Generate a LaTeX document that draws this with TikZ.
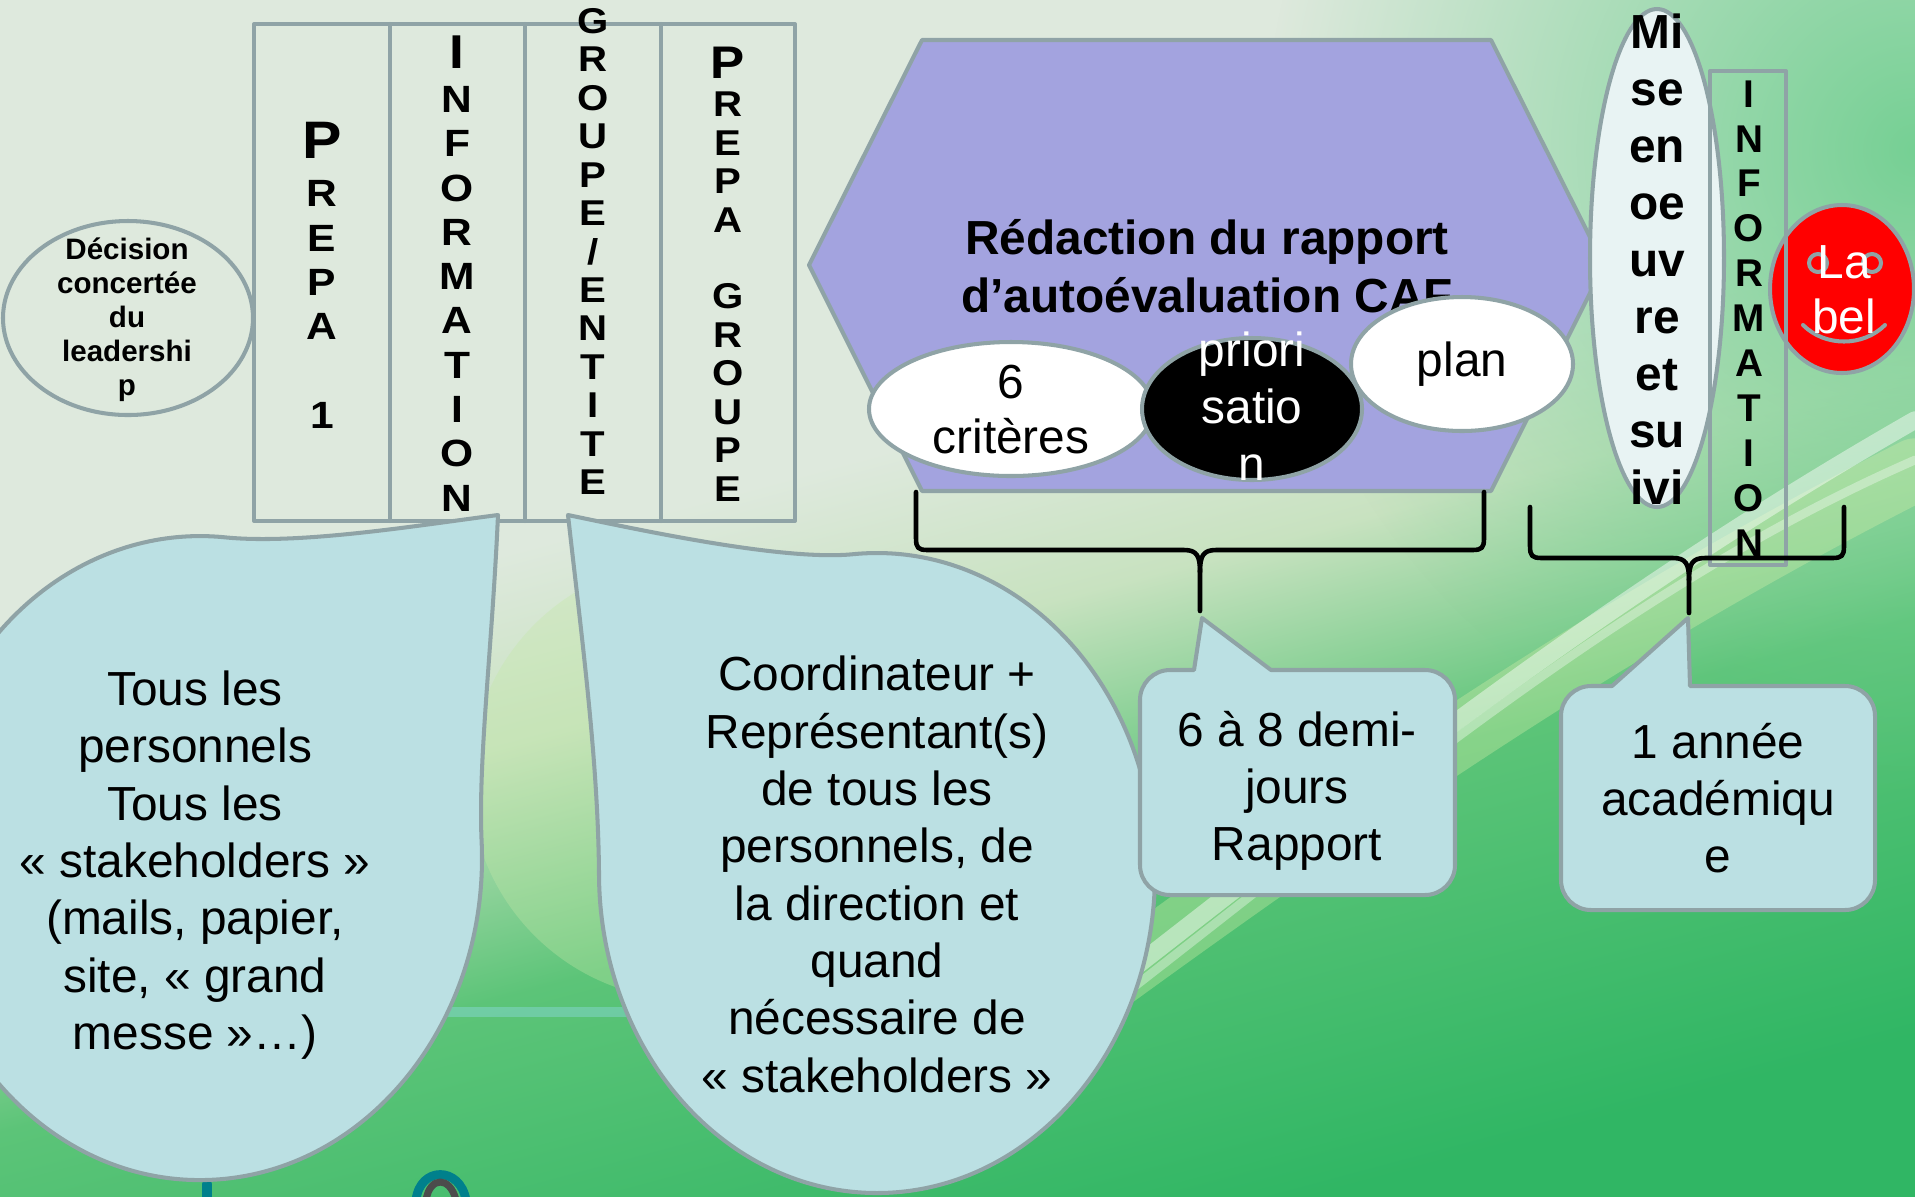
\documentclass[tikz,border=0pt]{standalone}
\usepackage{fontspec}
\setmainfont{Liberation Sans}
\newfontfamily\etire{Liberation Sans}[FakeStretch=1.12]
\usetikzlibrary{fadings}
\definecolor{gristrait}{RGB}{143,163,166}
\definecolor{bleubulle}{RGB}{187,224,227}
\definecolor{lavande}{RGB}{163,163,223}
\definecolor{blanccasse}{RGB}{232,243,243}
\definecolor{fondpale}{RGB}{222,233,221}
\definecolor{fondclair}{RGB}{200,226,192}
\definecolor{fondvert}{RGB}{92,196,120}
\definecolor{fondfonce}{RGB}{48,182,100}
\definecolor{vertdroit}{RGB}{118,208,148}
\definecolor{vertclair}{RGB}{196,232,168}
\definecolor{jaunevert}{RGB}{215,240,170}
\definecolor{sarcelle}{RGB}{0,128,140}
\pgfdeclareverticalshading{fondslide}{100bp}{color(0bp)=(fondfonce); color(25bp)=(fondfonce); color(40bp)=(fondvert); color(49bp)=(fondclair); color(56bp)=(fondpale); color(100bp)=(fondpale)}
\tikzfading[name=coin, inner color=transparent!0, outer color=transparent!100]
\begin{document}
\begin{tikzpicture}[line join=round, line cap=round, x=0.01cm, y=-0.01cm,
  bord/.style={draw=gristrait, line width=1.15pt},
  texte/.style={inner sep=0pt, align=center, font=\fontsize{13.6}{16.3}\selectfont},
  colonne/.style={inner sep=0pt, align=center},
  accolade/.style={draw=black, line width=1.3pt}]
%Cadre et fond
\useasboundingbox (0,0) rectangle (1915,1196);
\clip (0,0) rectangle (1915,1196);
\shade[shading=fondslide, shading angle=15] (0,0) rectangle (1915,1196);
\fill[vertdroit, path fading=coin] (1915,150) circle [radius=650];
\fill[vertclair, opacity=.35] (690,780) circle [radius=220];
\draw[jaunevert, opacity=.35, line width=18pt] (1000,1060) .. controls (1300,840) and (1580,640) .. (1915,470);
\draw[white, opacity=.45, line width=5pt] (1080,1010) .. controls (1350,800) and (1600,600) .. (1915,420);
\draw[white, opacity=.35, line width=2.5pt] (1130,990) .. controls (1400,780) and (1640,580) .. (1915,460);
\draw[cyan!40, opacity=.35, line width=3pt] (380,1012) -- (720,1012);
\draw[sarcelle, line width=3pt] (207,1184) -- (207,1200);
\draw[sarcelle, line width=2.5pt] (416,1200) .. controls (420,1166) and (460,1166) .. (466,1200);
\draw[gray!60!black, line width=2pt] (426,1200) .. controls (430,1176) and (450,1176) .. (456,1200);
%Decision
\draw[bord] (128,318) ellipse [x radius=125, y radius=97];
\node[colonne, font=\bfseries\fontsize{8.4}{9.67}\selectfont] (decision) at (127,320) {Décision\\concertée\\du\\leadershi\\p};
%Colonnes
\draw[bord] (254,24) rectangle (795,521);
\foreach \x in {390,525,661} \draw[bord] (\x,24) -- (\x,521);
\node[colonne, font=\etire\bfseries\fontsize{10.8}{12.6}\selectfont] (prepa) at (322,275) {{\fontsize{15}{12.6}\selectfont P}\\[1.25pt]R\\E\\P\\A\\~\\1};
\node[colonne, font=\etire\bfseries\fontsize{10.8}{12.6}\selectfont] (info) at (457,273.3) {{\fontsize{13.5}{12.6}\selectfont I}\\N\\F\\O\\R\\M\\A\\T\\I\\O\\N};
\node[colonne, font=\etire\bfseries\fontsize{10.2}{10.93}\selectfont] (groupe) at (593,251.5) {G\\R\\O\\U\\P\\E\\/\\E\\N\\T\\I\\T\\E};
\node[colonne, font=\etire\bfseries\fontsize{10.2}{10.94}\selectfont] (prepagroupe) at (728,274) {{\fontsize{13}{10.94}\selectfont P}\\R\\E\\P\\A\\~\\G\\R\\O\\U\\P\\E};
%Redaction du rapport
\draw[bord, fill=lavande] (922,40) -- (1491,40) -- (1604,265) -- (1491,491) -- (922,491) -- (809,265) -- cycle;
\node[texte, font=\bfseries\fontsize{13.6}{16.33}\selectfont] (redaction) at (1207,266) {Rédaction du rapport\\d’autoévaluation CAF};
\draw[bord, fill=white] (1011,409) ellipse [x radius=142, y radius=67];
\node[texte, font=\fontsize{13.6}{15.65}\selectfont] (criteres) at (1011,409.5) {6\\critères};
\draw[bord, fill=black] (1252,409) ellipse [x radius=110, y radius=71];
\node[texte, text=white] (prior) at (1252,406) {priori\\satio\\n};
\draw[bord, fill=white] (1462,364) ellipse [x radius=111, y radius=67];
\node[texte] (plan) at (1462,364) {plan};
%Accolade gauche
\coordinate (pointeA) at (1200,611);
\draw[accolade] (916,492) -- (916,538) .. controls (916,548) and (918,550) .. (928,550) -- (1184,550) .. controls (1197,550) and (1200,556) .. (1200,572) -- (pointeA);
\draw[accolade] (1484,492) -- (1484,538) .. controls (1484,548) and (1482,550) .. (1472,550) -- (1216,550) .. controls (1203,550) and (1200,556) .. (1200,572);
%Mise en oeuvre, label, information
\draw[bord, fill=blanccasse] (1657,258) ellipse [x radius=67, y radius=249];
\node[texte, font=\bfseries\fontsize{13.6}{16.2}\selectfont] (mise) at (1657,259) {Mi\\se\\en\\oe\\uv\\re\\et\\su\\ivi};
\draw[bord, fill=red] (1842,289) ellipse [x radius=72, y radius=84];
\draw[bord] (1818,263) circle [radius=9];
\draw[bord] (1872,263) circle [radius=9];
\draw[bord] (1803,325) .. controls (1825,347) and (1863,347) .. (1885,325);
\node[texte, text=white, font=\fontsize{13.6}{15.6}\selectfont] (label) at (1844,289.5) {La\\bel};
\draw[bord] (1710,71) rectangle (1786,565);
\node[colonne, font=\bfseries\fontsize{11}{12.78}\selectfont] (information) at (1749,318.5) {I\\N\\F\\O\\R\\M\\A\\T\\I\\O\\N};
%Accolade droite
\coordinate (pointeB) at (1689,613);
\draw[accolade] (1530,507) -- (1530,546) .. controls (1530,556) and (1532,558) .. (1542,558) -- (1673,558) .. controls (1686,558) and (1689,564) .. (1689,580) -- (pointeB);
\draw[accolade] (1844,507) -- (1844,546) .. controls (1844,556) and (1842,558) .. (1832,558) -- (1705,558) .. controls (1692,558) and (1689,564) .. (1689,580);
%Bulles
\coordinate (becG) at (498,515);
\draw[bord, fill=bleubulle] (becG) .. controls (492,650) and (478,760) .. (481.6,841.2) arc[start angle=-3, end angle=275, x radius=282, y radius=322] .. controls (300,545) and (420,525) .. (becG) -- cycle;
\node[texte] (tous) at (195,865) {Tous les\\personnels\\Tous les\\« stakeholders »\\(mails, papier,\\site, « grand\\messe »…)};
\coordinate (becD) at (568,515);
\draw[bord, fill=bleubulle] (becD) .. controls (582,640) and (598,760) .. (599,873) arc[start angle=180, end angle=-95, x radius=278, y radius=320] .. controls (783,561) and (640,530) .. (becD) -- cycle;
\node[texte] (coord) at (877,874.5) {Coordinateur +\\Représentant(s)\\de tous les\\personnels, de\\la direction et\\quand\\nécessaire de\\« stakeholders »};
\coordinate (becA) at (1202,618);
\draw[bord, fill=bleubulle] (1194,670) -- (becA) -- (1271,670) -- (1425,670) arc[start angle=270, end angle=360, radius=30] -- (1455,865) arc[start angle=0, end angle=90, radius=30] -- (1170,895) arc[start angle=90, end angle=180, radius=30] -- (1140,700) arc[start angle=180, end angle=270, radius=30] -- cycle;
\node[texte] (demi) at (1297,791) {6 à 8 demi-\\jours\\Rapport};
\coordinate (becB) at (1688,618);
\draw[bord, fill=bleubulle] (1612,686) -- (becB) -- (1690,686) -- (1845,686) arc[start angle=270, end angle=360, radius=30] -- (1875,880) arc[start angle=0, end angle=90, radius=30] -- (1591,910) arc[start angle=90, end angle=180, radius=30] -- (1561,716) arc[start angle=180, end angle=270, radius=30] -- cycle;
\node[texte] (annee) at (1718,798) {1 année\\académiqu\\e};
\end{tikzpicture}
\end{document}
